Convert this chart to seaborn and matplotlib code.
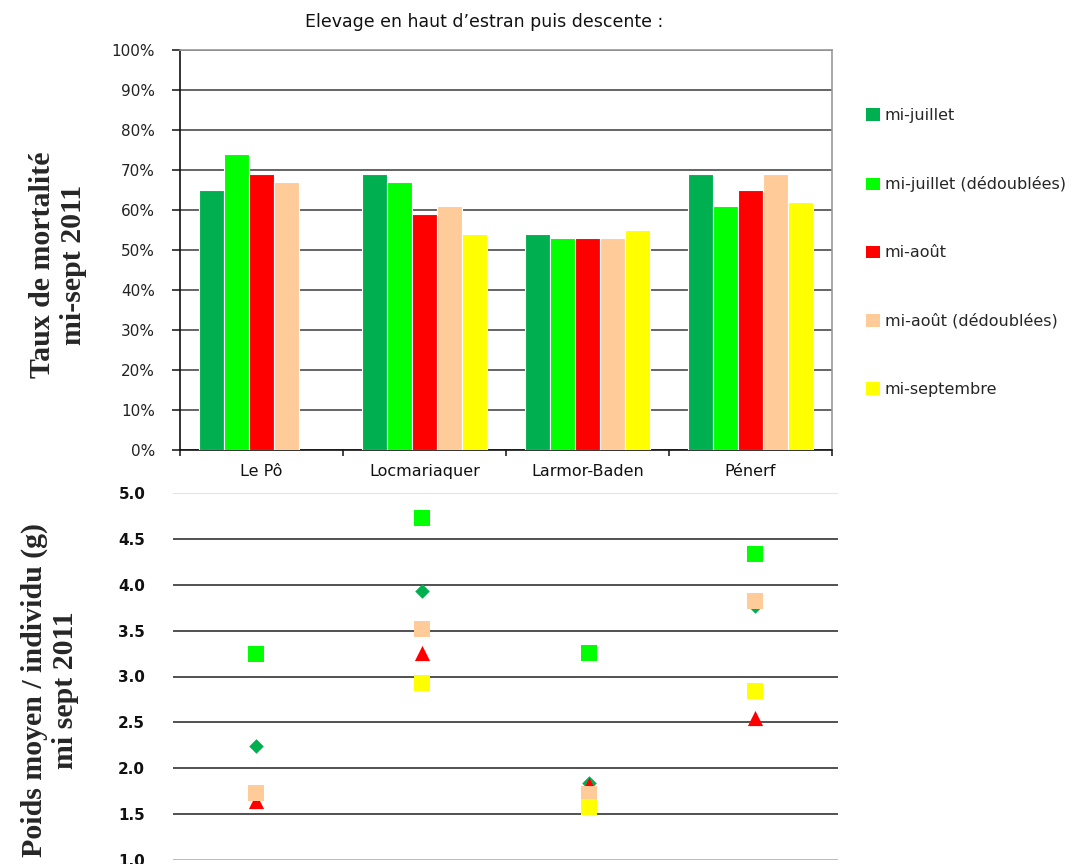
import numpy as np
import pandas as pd
import matplotlib
matplotlib.use("Agg")
import matplotlib.pyplot as plt
from matplotlib.patches import Patch
from matplotlib.ticker import FuncFormatter, FixedLocator
import seaborn as sns

# ---- data -------------------------------------------------------------
sites = ["Le Pô", "Locmariaquer", "Larmor-Baden", "Pénerf"]
periodes = ["mi-juillet", "mi-juillet (dédoublées)", "mi-août",
            "mi-août (dédoublées)", "mi-septembre"]
couleurs = ["#00B050", "#00FF00", "#FF0000", "#FFCC99", "#FFFF00"]

# Taux de mortalité mi-sept 2011 (%), one list per period (NaN = no batch)
mort_mi_juillet = [65, 69, 54, 69]
mort_mi_juillet_ded = [74, 67, 53, 61]
mort_mi_aout = [69, 59, 53, 65]
mort_mi_aout_ded = [67, 61, 53, 69]
mort_mi_sept = [np.nan, 54, 55, 62]

# Poids moyen par individu mi-sept 2011 (g)
poids_mi_juillet = [2.24, 3.93, 1.84, 3.77]
poids_mi_juillet_ded = [3.25, 4.73, 3.26, 4.34]
poids_mi_aout = [1.64, 3.26, 1.82, 2.55]
poids_mi_aout_ded = [1.73, 3.52, 1.72, 3.82]
poids_mi_sept = [np.nan, 2.93, 1.58, 2.84]

mortalite = [mort_mi_juillet, mort_mi_juillet_ded, mort_mi_aout,
             mort_mi_aout_ded, mort_mi_sept]
poids = [poids_mi_juillet, poids_mi_juillet_ded, poids_mi_aout,
         poids_mi_aout_ded, poids_mi_sept]

df_mort = pd.DataFrame(
    [(s, p, v) for p, vals in zip(periodes, mortalite) for s, v in zip(sites, vals)],
    columns=["site", "periode", "taux"]).dropna()
df_poids = pd.DataFrame(
    [(s, p, v) for p, vals in zip(periodes, poids) for s, v in zip(sites, vals)],
    columns=["site", "periode", "poids"]).dropna()

palette = dict(zip(periodes, couleurs))
marqueurs = dict(zip(periodes, ["D", "s", "^", "s", "s"]))
tailles = dict(zip(periodes, [55, 120, 120, 120, 120]))

# ---- figure -----------------------------------------------------------
sns.set_theme(style="white")
plt.rcParams["font.family"] = ["DejaVu Sans"]

fig = plt.figure(figsize=(10.92, 8.64), dpi=100)
W, H = 1092, 864

# Top panel: mortality bars
ax1 = fig.add_axes([180 / W, 1 - 450 / H, (832 - 180) / W, 400 / H])
sns.barplot(data=df_mort, x="site", y="taux", hue="periode", order=sites,
            hue_order=periodes, palette=palette, width=0.77, dodge=True,
            edgecolor="white", linewidth=0.8, saturation=1, legend=False,
            ax=ax1, zorder=3)
ax1.set_ylim(0, 100)
ax1.set_xlim(-0.5, len(sites) - 0.5)
ax1.yaxis.set_major_locator(FixedLocator(np.arange(0, 101, 10)))
ax1.yaxis.set_major_formatter(FuncFormatter(lambda v, _: f"{v:.0f}%"))
ax1.grid(axis="y", color="#3a3a3a", linewidth=1.1, zorder=0)
ax1.set_axisbelow(True)
ax1.set_xlabel("")
ax1.set_ylabel("")
for side in ("top", "right"):
    ax1.spines[side].set_color("#9a9a9a")
    ax1.spines[side].set_linewidth(1.2)
for side in ("left", "bottom"):
    ax1.spines[side].set_color("#111111")
    ax1.spines[side].set_linewidth(1.2)
ax1.tick_params(axis="y", which="major", left=True, length=6, width=1.1,
                color="#111111", pad=12, labelsize=11, labelcolor="#222222")
ax1.xaxis.set_minor_locator(FixedLocator(np.arange(-0.5, len(sites), 1.0)))
ax1.tick_params(axis="x", which="major", bottom=False, length=0, pad=10,
                labelsize=11.5, labelcolor="#111111")
ax1.tick_params(axis="x", which="minor", bottom=True, length=4, width=1.1,
                color="#111111")

# Bottom panel: mean weight markers
ax2 = fig.add_axes([173 / W, 1 - 860 / H, (838 - 173) / W, (860 - 493) / H])
for p in periodes:
    sub = df_poids[df_poids["periode"] == p]
    sns.scatterplot(data=sub, x="site", y="poids", color=palette[p],
                    marker=marqueurs[p], s=tailles[p], linewidth=0,
                    ax=ax2, zorder=3, legend=False)
ax2.set_xlim(-0.5, len(sites) - 0.5)
ax2.set_ylim(1.0, 5.0)
ax2.yaxis.set_major_locator(FixedLocator(np.arange(1.0, 5.01, 0.5)))
ax2.yaxis.set_major_formatter(FuncFormatter(lambda v, _: f"{v:.1f}"))
ax2.grid(axis="y", color="#222222", linewidth=1.1, zorder=0)
ax2.set_axisbelow(True)
gl = ax2.get_ygridlines()
gl[-1].set_color("#dddddd")
gl[0].set_color("#aaaaaa")
for s in ax2.spines.values():
    s.set_visible(False)
ax2.set_xticks([])
ax2.set_xlabel("")
ax2.set_ylabel("")
ax2.tick_params(axis="y", left=False, length=0, pad=20, labelsize=11,
                labelcolor="#111111")
for t in ax2.get_yticklabels():
    t.set_fontweight("bold")

# Titles and axis labels
fig.text(484 / W, 1 - 22 / H, "Elevage en haut d\u2019estran puis descente :",
         ha="center", va="center", fontsize=12.5, color="#111111")
fig.text(58 / W, 1 - 265 / H, "Taux de mortalité\nmi-sept 2011",
         rotation=90, ha="center", va="center", multialignment="center",
         fontsize=21.5, fontweight="bold", family=["Liberation Serif"],
         linespacing=1.2)
fig.text(50 / W, 1 - 690 / H, "Poids moyen / individu (g)\nmi sept 2011",
         rotation=90, ha="center", va="center", multialignment="center",
         fontsize=21.5, fontweight="bold", family=["Liberation Serif"],
         linespacing=1.2)

# Legend
handles = [Patch(facecolor=palette[p], edgecolor="none", label=p) for p in periodes]
fig.legend(handles=handles, loc="upper left",
           bbox_to_anchor=(860 / W, 1 - 102 / H), frameon=False,
           fontsize=11.5, handlelength=0.85, handleheight=0.85,
           handletextpad=0.3, labelspacing=3.32, borderaxespad=0)

fig.savefig("out.png", dpi=100, facecolor="white")
